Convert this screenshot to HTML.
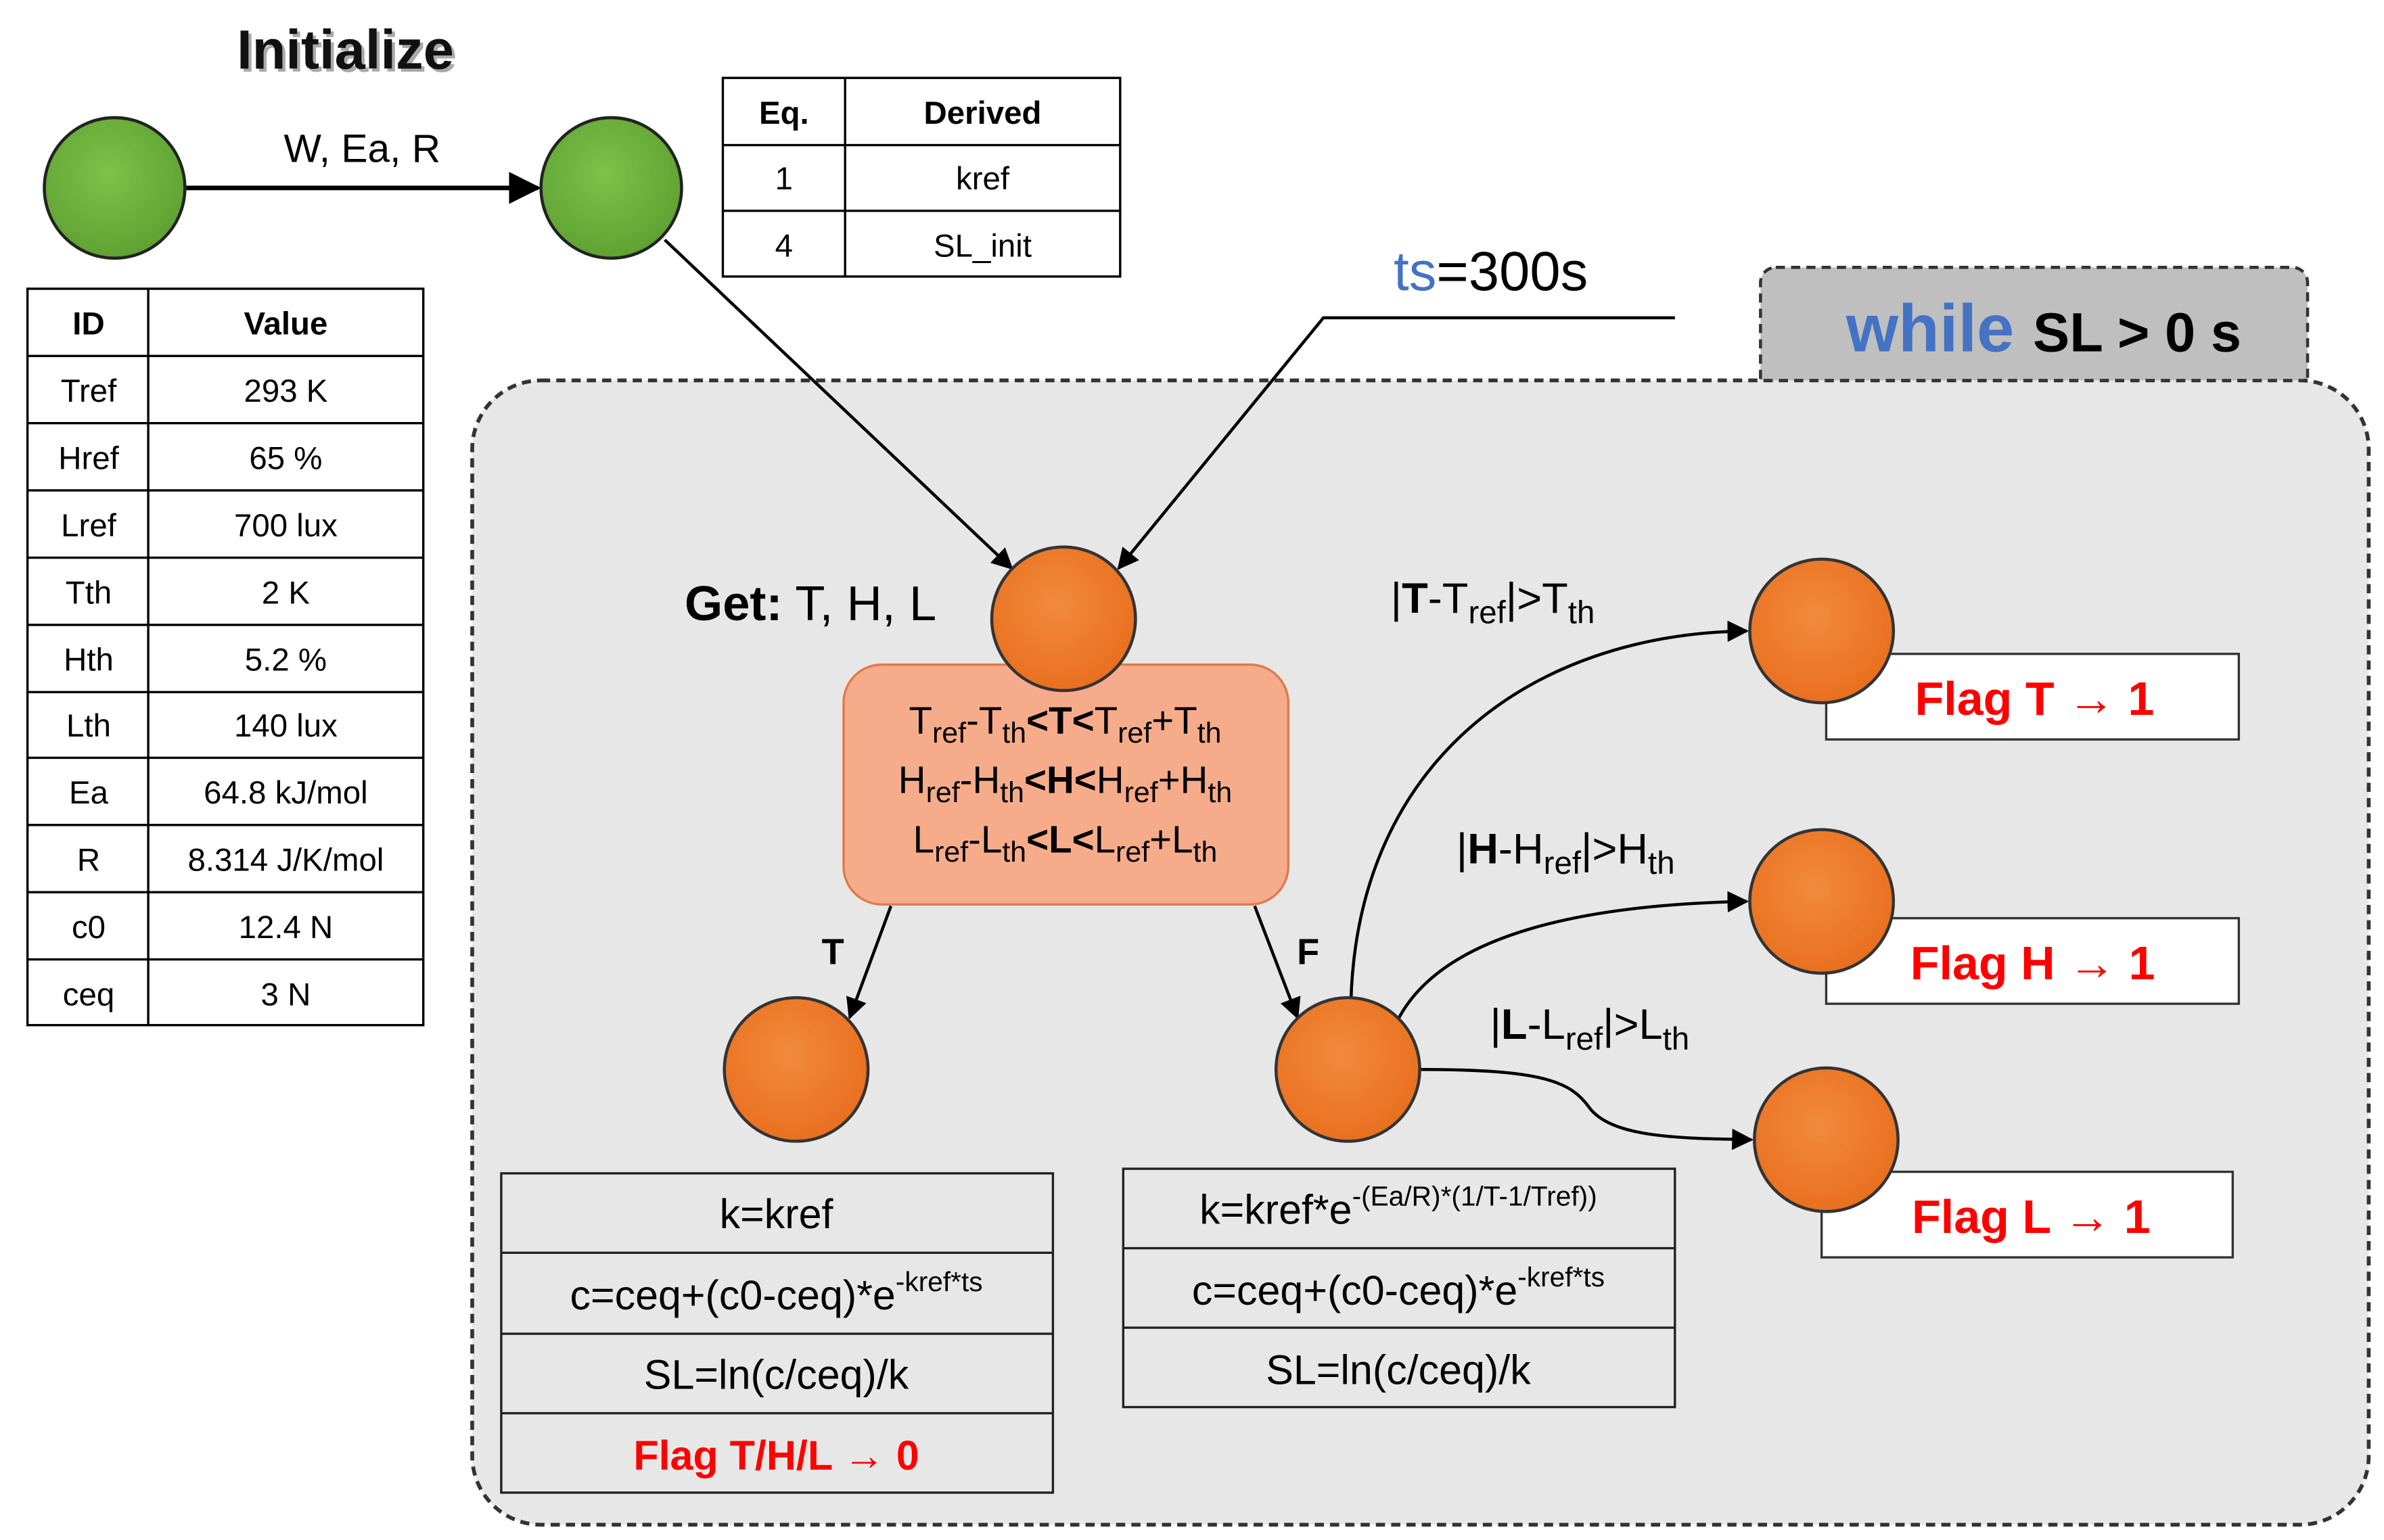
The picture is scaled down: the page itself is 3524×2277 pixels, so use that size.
<!DOCTYPE html>
<html><head><meta charset="utf-8"><style>
html,body{margin:0;padding:0;background:#fff}
svg{display:block}
text{font-family:"Liberation Sans",sans-serif}
</style></head><body>
<svg width="3524" height="2277" viewBox="0 0 1560 1008" preserveAspectRatio="none" xmlns="http://www.w3.org/2000/svg">
<defs>
<marker id="ar" viewBox="0 0 10 10" refX="9" refY="5" markerWidth="7" markerHeight="7" orient="auto-start-reverse"><path d="M0,0 L10,5 L0,10 z" fill="#000"/></marker>
<radialGradient id="og" cx="45%" cy="40%" r="60%"><stop offset="0" stop-color="#f28a3c"/><stop offset="1" stop-color="#e8701f"/></radialGradient>
<radialGradient id="gg" cx="45%" cy="40%" r="60%"><stop offset="0" stop-color="#7dc24a"/><stop offset="1" stop-color="#5fa232"/></radialGradient>
</defs>

<!-- big dashed container -->
<rect x="1152" y="175" width="358" height="90" rx="10" fill="#bfbfbf" stroke="#333" stroke-width="2" stroke-dasharray="6,4"/>
<rect x="309" y="249" width="1241" height="749" rx="45" fill="#e7e7e7" stroke="#333" stroke-width="2.5" stroke-dasharray="6,4"/>
<rect x="1154" y="240" width="354" height="8" fill="#bfbfbf"/>
<text x="1208" y="230" font-size="44" font-weight="bold" fill="#4472c4">while <tspan fill="#000" font-size="36">SL &gt; 0 s</tspan></text>

<!-- Initialize -->
<text x="155" y="45" font-size="36" font-weight="bold" fill="#aaa" transform="translate(2,2)">Initialize</text>
<text x="155" y="45" font-size="36" font-weight="bold" fill="#111">Initialize</text>
<line x1="122" y1="123" x2="352" y2="123" stroke="#000" stroke-width="3" marker-end="url(#ar)"/>
<text x="237" y="106" font-size="26" text-anchor="middle">W, Ea, R</text>
<circle cx="75" cy="123" r="46" fill="url(#gg)" stroke="#222" stroke-width="2"/>
<circle cx="400" cy="123" r="46" fill="url(#gg)" stroke="#222" stroke-width="2"/>

<!-- Eq table -->
<g stroke="#000" stroke-width="1.5" fill="#fff">
<rect x="473" y="51" width="260" height="130"/>
<line x1="553" y1="51" x2="553" y2="181"/><line x1="473" y1="95" x2="733" y2="95"/><line x1="473" y1="138" x2="733" y2="138"/>
</g>
<g font-size="21" text-anchor="middle">
<text x="513" y="81" font-weight="bold">Eq.</text><text x="643" y="81" font-weight="bold">Derived</text>
<text x="513" y="124">1</text><text x="643" y="124">kref</text>
<text x="513" y="168">4</text><text x="643" y="168">SL_init</text>
</g>

<!-- ID table -->
<g stroke="#000" stroke-width="1.5" fill="#fff">
<rect x="18" y="189" width="259" height="482"/>
<line x1="97" y1="189" x2="97" y2="671"/>
<line x1="18" y1="233" x2="277" y2="233"/><line x1="18" y1="277" x2="277" y2="277"/><line x1="18" y1="321" x2="277" y2="321"/><line x1="18" y1="365" x2="277" y2="365"/><line x1="18" y1="409" x2="277" y2="409"/><line x1="18" y1="453" x2="277" y2="453"/><line x1="18" y1="496" x2="277" y2="496"/><line x1="18" y1="540" x2="277" y2="540"/><line x1="18" y1="584" x2="277" y2="584"/><line x1="18" y1="628" x2="277" y2="628"/>
</g>
<g font-size="21" text-anchor="middle">
<text x="58" y="219" font-weight="bold">ID</text><text x="187" y="219" font-weight="bold">Value</text>
<text x="58" y="263">Tref</text><text x="187" y="263">293 K</text>
<text x="58" y="307">Href</text><text x="187" y="307">65 %</text>
<text x="58" y="351">Lref</text><text x="187" y="351">700 lux</text>
<text x="58" y="395">Tth</text><text x="187" y="395">2 K</text>
<text x="58" y="439">Hth</text><text x="187" y="439">5.2 %</text>
<text x="58" y="482">Lth</text><text x="187" y="482">140 lux</text>
<text x="58" y="526">Ea</text><text x="187" y="526">64.8 kJ/mol</text>
<text x="58" y="570">R</text><text x="187" y="570">8.314 J/K/mol</text>
<text x="58" y="614">c0</text><text x="187" y="614">12.4 N</text>
<text x="58" y="658">ceq</text><text x="187" y="658">3 N</text>
</g>

<!-- ts -->
<text x="912" y="190" font-size="36"><tspan fill="#4472c4">ts</tspan>=300s</text>
<polyline points="1096,208 866,208 732,372" fill="none" stroke="#000" stroke-width="2" marker-end="url(#ar)"/>
<line x1="435" y1="157" x2="662" y2="372" stroke="#000" stroke-width="2" marker-end="url(#ar)"/>

<!-- Get -->
<text x="448" y="406" font-size="32"><tspan font-weight="bold">Get:</tspan> T, H, L</text>
<rect x="552" y="435" width="291" height="157" rx="25" fill="#f6ac8a" stroke="#e07a4a" stroke-width="1.5"/>
<g font-size="25" text-anchor="middle">
<text x="697" y="480">T<tspan font-size="19" dy="6">ref</tspan><tspan dy="-6">-T</tspan><tspan font-size="19" dy="6">th</tspan><tspan dy="-6" font-weight="bold">&lt;T&lt;</tspan>T<tspan font-size="19" dy="6">ref</tspan><tspan dy="-6">+T</tspan><tspan font-size="19" dy="6">th</tspan></text>
<text x="697" y="519">H<tspan font-size="19" dy="6">ref</tspan><tspan dy="-6">-H</tspan><tspan font-size="19" dy="6">th</tspan><tspan dy="-6" font-weight="bold">&lt;H&lt;</tspan>H<tspan font-size="19" dy="6">ref</tspan><tspan dy="-6">+H</tspan><tspan font-size="19" dy="6">th</tspan></text>
<text x="697" y="558">L<tspan font-size="19" dy="6">ref</tspan><tspan dy="-6">-L</tspan><tspan font-size="19" dy="6">th</tspan><tspan dy="-6" font-weight="bold">&lt;L&lt;</tspan>L<tspan font-size="19" dy="6">ref</tspan><tspan dy="-6">+L</tspan><tspan font-size="19" dy="6">th</tspan></text>
</g>
<circle cx="696" cy="405" r="47" fill="url(#og)" stroke="#333" stroke-width="2"/>

<line x1="583" y1="593" x2="556" y2="666" stroke="#000" stroke-width="2" marker-end="url(#ar)"/>
<line x1="821" y1="593" x2="849" y2="666" stroke="#000" stroke-width="2" marker-end="url(#ar)"/>
<text x="545" y="631" font-size="24" font-weight="bold" text-anchor="middle">T</text>
<text x="856" y="631" font-size="24" font-weight="bold" text-anchor="middle">F</text>

<!-- curves -->
<g fill="none" stroke="#000" stroke-width="2">
<path d="M884,656 C888,500 1000,415 1143,413" marker-end="url(#ar)"/>
<path d="M915,667 C945,610 1040,592 1143,590" marker-end="url(#ar)"/>
<path d="M929,700 C1010,700 1028,708 1040,725 C1055,745 1100,745 1146,746" marker-end="url(#ar)"/>
</g>
<g font-size="28">
<text x="910" y="401">|<tspan font-weight="bold">T</tspan>-T<tspan font-size="21" dy="7">ref</tspan><tspan dy="-7">|&gt;T</tspan><tspan font-size="21" dy="7">th</tspan></text>
<text x="953" y="565">|<tspan font-weight="bold">H</tspan>-H<tspan font-size="21" dy="7">ref</tspan><tspan dy="-7">|&gt;H</tspan><tspan font-size="21" dy="7">th</tspan></text>
<text x="975" y="680">|<tspan font-weight="bold">L</tspan>-L<tspan font-size="21" dy="7">ref</tspan><tspan dy="-7">|&gt;L</tspan><tspan font-size="21" dy="7">th</tspan></text>
</g>

<!-- flag boxes -->
<g fill="#fff" stroke="#333" stroke-width="1.5">
<rect x="1195" y="428" width="270" height="56"/>
<rect x="1195" y="601" width="270" height="56"/>
<rect x="1192" y="767" width="269" height="56"/>
</g>
<g font-size="31" font-weight="bold" fill="#ff0000">
<text x="1253" y="468">Flag T → 1</text>
<text x="1250" y="641">Flag H → 1</text>
<text x="1251" y="807">Flag L → 1</text>
</g>
<circle cx="1192" cy="413" r="47" fill="url(#og)" stroke="#333" stroke-width="2"/>
<circle cx="1192" cy="590" r="47" fill="url(#og)" stroke="#333" stroke-width="2"/>
<circle cx="1195" cy="746" r="47" fill="url(#og)" stroke="#333" stroke-width="2"/>

<circle cx="521" cy="700" r="47" fill="url(#og)" stroke="#333" stroke-width="2"/>
<circle cx="882" cy="700" r="47" fill="url(#og)" stroke="#333" stroke-width="2"/>

<!-- left box -->
<g fill="none" stroke="#222" stroke-width="1.5">
<rect x="328" y="768" width="361" height="209"/>
<line x1="328" y1="820" x2="689" y2="820"/><line x1="328" y1="873" x2="689" y2="873"/><line x1="328" y1="925" x2="689" y2="925"/>
</g>
<g font-size="27" text-anchor="middle">
<text x="508" y="804">k=kref</text>
<text x="508" y="857">c=ceq+(c0-ceq)*e<tspan font-size="18" dy="-12">-kref*ts</tspan></text>
<text x="508" y="909">SL=ln(c/ceq)/k</text>
<text x="508" y="962" font-weight="bold" fill="#ff0000">Flag T/H/L → 0</text>
</g>

<!-- right box -->
<g fill="none" stroke="#222" stroke-width="1.5">
<rect x="735" y="765" width="361" height="156"/>
<line x1="735" y1="817" x2="1096" y2="817"/><line x1="735" y1="869" x2="1096" y2="869"/>
</g>
<g font-size="27" text-anchor="middle">
<text x="915" y="801">k=kref*e<tspan font-size="18" dy="-12">-(Ea/R)*(1/T-1/Tref))</tspan></text>
<text x="915" y="854">c=ceq+(c0-ceq)*e<tspan font-size="18" dy="-12">-kref*ts</tspan></text>
<text x="915" y="906">SL=ln(c/ceq)/k</text>
</g>
</svg>
</body></html>
